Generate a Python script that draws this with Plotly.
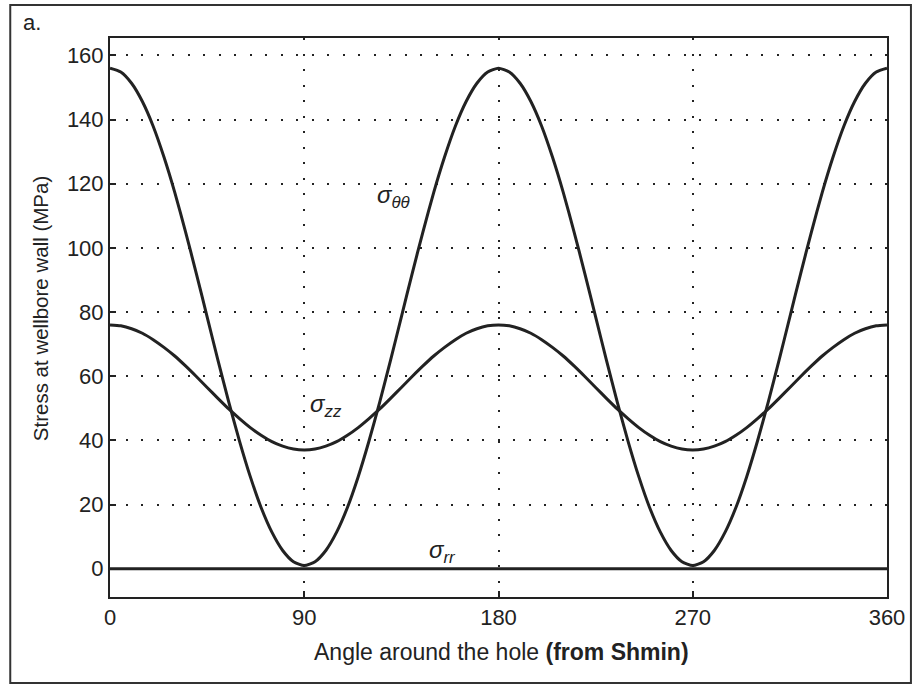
import plotly.graph_objects as go

# Angle around the hole, degrees from Shmin (5 degree steps)
angle = list(range(0, 361, 5))

# Hoop stress at the wellbore wall (MPa)
sigma_tt = [156, 154.8, 151.3, 145.6, 137.9, 128.3, 117.3, 105.0, 92.0, 78.5,
            65.0, 52.0, 39.8, 28.7, 19.1, 11.4, 5.7, 2.2, 1.0,
            2.2, 5.7, 11.4, 19.1, 28.7, 39.8, 52.0, 65.0, 78.5, 92.0,
            105.0, 117.3, 128.3, 137.9, 145.6, 151.3, 154.8, 156,
            154.8, 151.3, 145.6, 137.9, 128.3, 117.3, 105.0, 92.0, 78.5,
            65.0, 52.0, 39.8, 28.7, 19.1, 11.4, 5.7, 2.2, 1.0,
            2.2, 5.7, 11.4, 19.1, 28.7, 39.8, 52.0, 65.0, 78.5, 92.0,
            105.0, 117.3, 128.3, 137.9, 145.6, 151.3, 154.8, 156]

# Axial stress (MPa)
sigma_zz = [76, 75.7, 74.8, 73.4, 71.4, 69.0, 66.3, 63.2, 59.9, 56.5,
            53.1, 49.8, 46.8, 44.0, 41.6, 39.6, 38.2, 37.3, 37.0,
            37.3, 38.2, 39.6, 41.6, 44.0, 46.8, 49.8, 53.1, 56.5, 59.9,
            63.2, 66.3, 69.0, 71.4, 73.4, 74.8, 75.7, 76,
            75.7, 74.8, 73.4, 71.4, 69.0, 66.3, 63.2, 59.9, 56.5,
            53.1, 49.8, 46.8, 44.0, 41.6, 39.6, 38.2, 37.3, 37.0,
            37.3, 38.2, 39.6, 41.6, 44.0, 46.8, 49.8, 53.1, 56.5, 59.9,
            63.2, 66.3, 69.0, 71.4, 73.4, 74.8, 75.7, 76]

# Radial stress (MPa)
sigma_rr = [0] * len(angle)

x_ticks = [0, 90, 180, 270, 360]
y_ticks = [0, 20, 40, 60, 80, 100, 120, 140, 160]

FONT = "Liberation Sans, Arial, sans-serif"
INK = "#222222"

# plot-area geometry in pixels, used to place paper-referenced items
L, R, T, B = 110, 889, 38, 597
PW, PH = R - L, B - T


def px(x):
    return (x - L) / PW


def py(y):
    return (B - y) / PH


fig = go.Figure()
for ys in (sigma_rr, sigma_zz, sigma_tt):
    fig.add_trace(go.Scatter(
        x=angle, y=ys, mode="lines",
        line=dict(color=INK, width=3, shape="spline", smoothing=0.6),
        showlegend=False, hoverinfo="skip",
    ))

labels = [
    (131.5, 116, "σ<sub>θθ</sub>"),
    (100, 51, "σ<sub>zz</sub>"),
    (154, 5.5, "σ<sub>rr</sub>"),
]
for x, y, t in labels:
    fig.add_annotation(x=x, y=y, text="<i>" + t + "</i>", showarrow=False,
                       font=dict(family=FONT, size=24, color=INK),
                       xanchor="center", yanchor="middle")

fig.add_annotation(xref="paper", yref="paper", x=px(21), y=py(22), text="a.",
                   showarrow=False, xanchor="left", yanchor="middle",
                   font=dict(family=FONT, size=22, color=INK))

# y-axis title
fig.add_annotation(xref="paper", yref="paper", x=px(40), y=py(309),
                   text="Stress at wellbore wall (MPa)", textangle=-90,
                   showarrow=False, xanchor="center", yanchor="middle",
                   font=dict(family=FONT, size=20.5, color=INK))

# x-axis title
fig.add_annotation(xref="paper", yref="paper", x=px(503), y=py(652),
                   text="Angle around the hole <b><span style='font-size:23px'>(from Shmin)</span></b>",
                   showarrow=False, xanchor="center", yanchor="middle",
                   font=dict(family=FONT, size=23, color=INK))

# outer panel frame
fig.add_shape(type="rect", xref="paper", yref="paper",
              x0=px(10), x1=px(913), y0=py(683), y1=py(5),
              line=dict(color="#333333", width=2), layer="below")

fig.update_xaxes(
    range=[0, 360], tickvals=x_ticks, ticks="inside", ticklen=6, tickwidth=2, tickcolor=INK,
    showline=True, linecolor=INK, linewidth=2, mirror=True,
    showgrid=True, gridcolor=INK, gridwidth=1.5, griddash="2px,13.5px",
    zeroline=False,
    tickfont=dict(family=FONT, size=22, color=INK),
)
fig.update_yaxes(
    range=[-8.8, 165.4], tickvals=y_ticks, ticks="inside", ticklen=6, tickwidth=2, tickcolor=INK,
    showline=True, linecolor=INK, linewidth=2, mirror=True,
    showgrid=True, gridcolor=INK, gridwidth=1.5, griddash="2px,13.5px",
    zeroline=False,
    tickfont=dict(family=FONT, size=22, color=INK),
)

fig.update_layout(
    width=917, height=686,
    margin=dict(l=L, r=917 - R, t=T, b=686 - B),
    paper_bgcolor="white", plot_bgcolor="white",
)

fig.write_html("out.html")
